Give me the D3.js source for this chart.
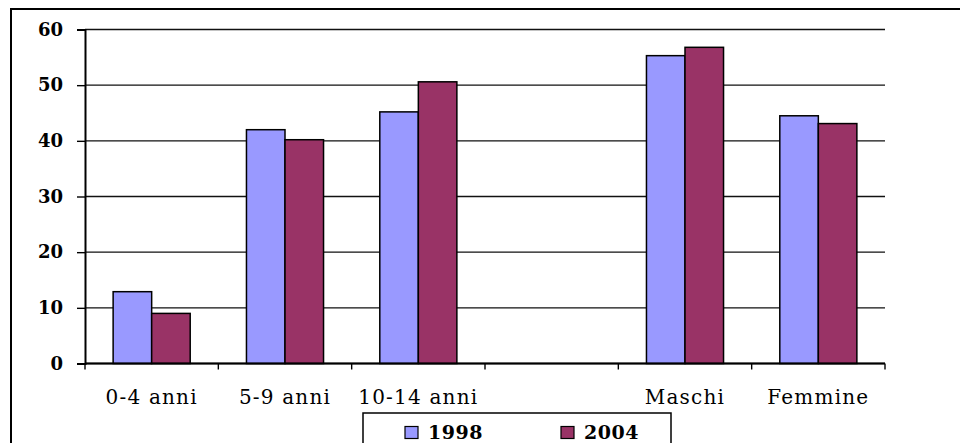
<!DOCTYPE html>
<html lang="it"><head>
<meta charset="utf-8"/>
<title>1998 / 2004</title>
<script src="https://d3js.org/d3.v7.min.js"></script>
<style>
    body {margin: 0; padding: 0; background: #fff;}
    svg text {font-family: 'DejaVu Serif', serif; fill: #000;}
</style>
</head>
<body>
<div id="chart"></div>
<script>
    // data
    const categories = ["0-4 anni", "5-9 anni", "10-14 anni", "", "Maschi", "Femmine"];
    const series = ["1998", "2004"];
    const values1998 = [12.9, 42.0, 45.2, null, 55.3, 44.5];
    const values2004 = [9.0, 40.2, 50.6, null, 56.8, 43.1];
    const yTicks = [0, 10, 20, 30, 40, 50, 60];
    const colors = ["#9999ff", "#993366"];

    const W = 960, H = 443;
    const plot = {left: 85, right: 885, top: 29.5, bottom: 363.5};

    const svg = d3.select("#chart").append("svg")
        .attr("width", W).attr("height", H);

    // outer frame (runs off the right and bottom edge in the original)
    svg.append("rect")
        .attr("x", 11).attr("y", 9)
        .attr("width", 1000).attr("height", 500)
        .attr("fill", "none").attr("stroke", "#000").attr("stroke-width", 2);

    const x = d3.scaleBand().domain(d3.range(categories.length))
        .range([plot.left, plot.right]).padding(0);
    const xSub = d3.scaleBand().domain(series)
        .range([0, x.bandwidth()]).paddingInner(0).paddingOuter(0.73);
    const y = d3.scaleLinear().domain([0, 60]).range([plot.bottom, plot.top]);

    // gridlines
    svg.append("g").selectAll("line").data(yTicks).join("line")
        .attr("x1", plot.left).attr("x2", plot.right)
        .attr("y1", d => y(d)).attr("y2", d => y(d))
        .attr("stroke", "#111").attr("stroke-width", 1.4);

    // y axis
    const yAxis = svg.append("g")
        .attr("transform", `translate(${plot.left},0)`)
        .call(d3.axisLeft(y).tickValues(yTicks).tickSize(8).tickPadding(14));
    yAxis.select(".domain").attr("stroke", "#000").attr("stroke-width", 2);
    yAxis.selectAll(".tick line").attr("stroke", "#000").attr("stroke-width", 1.4);
    yAxis.selectAll("text")
        .style("font-family", "'DejaVu Serif', serif")
        .style("font-size", "18px").style("font-weight", "bold");

    // bars
    const rows = categories.map((c, i) => [values1998[i], values2004[i]]);
    svg.append("g").selectAll("g").data(rows).join("g")
        .attr("transform", (d, i) => `translate(${x(i)},0)`)
        .selectAll("rect")
        .data(d => d.map((v, j) => ({s: series[j], v, c: colors[j]})).filter(e => e.v != null))
        .join("rect")
        .attr("x", d => xSub(d.s))
        .attr("width", xSub.bandwidth())
        .attr("y", d => y(d.v))
        .attr("height", d => y(0) - y(d.v))
        .attr("fill", d => d.c)
        .attr("stroke", "#000").attr("stroke-width", 1.5);

    // x axis
    const xTickPos = d3.range(categories.length + 1).map(i => plot.left + i * x.step());
    svg.append("line")
        .attr("x1", plot.left).attr("x2", plot.right)
        .attr("y1", y(0)).attr("y2", y(0))
        .attr("stroke", "#000").attr("stroke-width", 2);
    svg.append("g").selectAll("line").data(xTickPos).join("line")
        .attr("x1", d => d).attr("x2", d => d)
        .attr("y1", y(0)).attr("y2", y(0) + 6)
        .attr("stroke", "#000").attr("stroke-width", 1.4);
    svg.append("g").selectAll("text").data(categories).join("text")
        .attr("x", (d, i) => x(i) + x.bandwidth() / 2)
        .attr("y", 404)
        .attr("text-anchor", "middle")
        .style("font-size", "20px")
        .style("letter-spacing", "1.2px")
        .text(d => d);

    // legend
    const legend = svg.append("g");
    legend.append("rect")
        .attr("x", 363).attr("y", 413).attr("width", 308).attr("height", 60)
        .attr("fill", "#fff").attr("stroke", "#000").attr("stroke-width", 1.5);
    const li = legend.selectAll("g").data(series).join("g")
        .attr("transform", (d, i) => `translate(${405 + i * 156},0)`);
    li.append("rect")
        .attr("x", 0).attr("y", 426.5).attr("width", 13).attr("height", 12)
        .attr("fill", (d, i) => colors[i])
        .attr("stroke", "#000").attr("stroke-width", 1.2);
    li.append("text")
        .attr("x", 23).attr("y", 439)
        .style("font-size", "19px").style("font-weight", "bold")
        .style("letter-spacing", "0.5px")
        .text(d => d);
</script>
</body></html>
